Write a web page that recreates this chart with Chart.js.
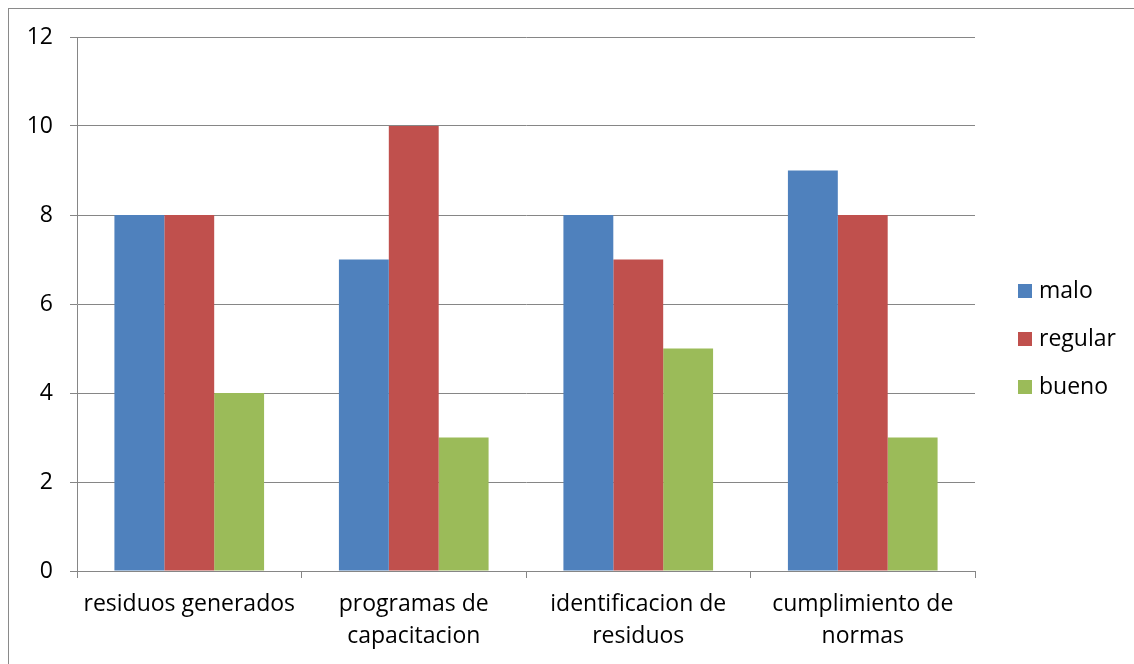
<!DOCTYPE html>
<html>
<head>
<meta charset="utf-8">
<script src="https://cdn.jsdelivr.net/npm/chart.js@4/dist/chart.umd.min.js"></script>
<style>
  html, body { margin: 0; padding: 0; background: #fff; overflow: hidden; }
  #wrap { position: relative; width: 1134px; height: 664px; }
  #frame { position: absolute; left: 8px; top: 8px; width: 3000px; height: 3000px;
           border: 1px solid #8a8a8a; box-sizing: border-box; pointer-events: none; }
  canvas { position: absolute; left: 0; top: 0; }
</style>
</head>
<body>
<div id="wrap">
  <canvas id="c" width="1134" height="664"></canvas>
  <div id="frame"></div>
</div>
<script>
// Categories (multi-line labels) and series values
const categories = [
  "residuos generados",
  ["programas de", "capacitacion"],
  ["identificacion de", "residuos"],
  ["cumplimiento de", "normas"]
];
const malo    = [8, 7, 8, 9];
const regular = [8, 10, 7, 8];
const bueno   = [4, 3, 5, 3];
const seriesNames = ["malo", "regular", "bueno"];
const seriesColors = ["#4F81BD", "#C0504D", "#9BBB59"];
const yTicks = { min: 0, max: 12, step: 2 };

const FONT = "'Open Sans', 'Noto Sans', sans-serif";
const FSIZE = 23;
const GRID = "#868686";

// Legend drawn to the right of the plot area
const sideLegend = {
  id: "sideLegend",
  afterDraw(chart) {
    const ctx = chart.ctx;
    ctx.save();
    ctx.font = FSIZE + "px " + FONT;
    ctx.textBaseline = "middle";
    chart.data.datasets.forEach((ds, i) => {
      const y = 291 + i * 48;
      ctx.fillStyle = ds.backgroundColor;
      ctx.fillRect(1018, y - 7, 14, 14);
      ctx.fillStyle = "#000";
      ctx.fillText(ds.label, 1039, y);
    });
    ctx.restore();
  }
};

new Chart(document.getElementById("c"), {
  type: "bar",
  data: {
    labels: categories,
    datasets: [
      { label: seriesNames[0], data: malo,    backgroundColor: seriesColors[0] },
      { label: seriesNames[1], data: regular, backgroundColor: seriesColors[1] },
      { label: seriesNames[2], data: bueno,   backgroundColor: seriesColors[2] }
    ]
  },
  options: {
    responsive: false,
    animation: false,
    devicePixelRatio: 1,
    layout: { padding: { top: 37, right: 159, left: 0, bottom: 0 } },
    datasets: { bar: { categoryPercentage: 150 / 225, barPercentage: 1.0, borderWidth: 0 } },
    plugins: { legend: { display: false }, tooltip: { enabled: false } },
    scales: {
      x: {
        offset: true,
        grid: { display: true, offset: true, drawOnChartArea: false, drawTicks: true,
                tickLength: 7, color: GRID, lineWidth: 1 },
        border: { display: true, color: GRID, width: 1 },
        ticks: { color: "#000", font: { family: FONT, size: FSIZE, lineHeight: 1.4 }, padding: 10,
                 maxRotation: 0, autoSkip: false },
        afterFit(scale) { scale.height = 664 - 571; }
      },
      y: {
        min: yTicks.min, max: yTicks.max,
        grid: { color: GRID, lineWidth: 1, drawTicks: true, tickLength: 7 },
        border: { display: true, color: GRID, width: 1 },
        ticks: { stepSize: yTicks.step, color: "#000", font: { family: FONT, size: FSIZE }, padding: 17 },
        afterFit(scale) { scale.width = 77; }
      }
    }
  },
  plugins: [sideLegend]
});
</script>
</body>
</html>
